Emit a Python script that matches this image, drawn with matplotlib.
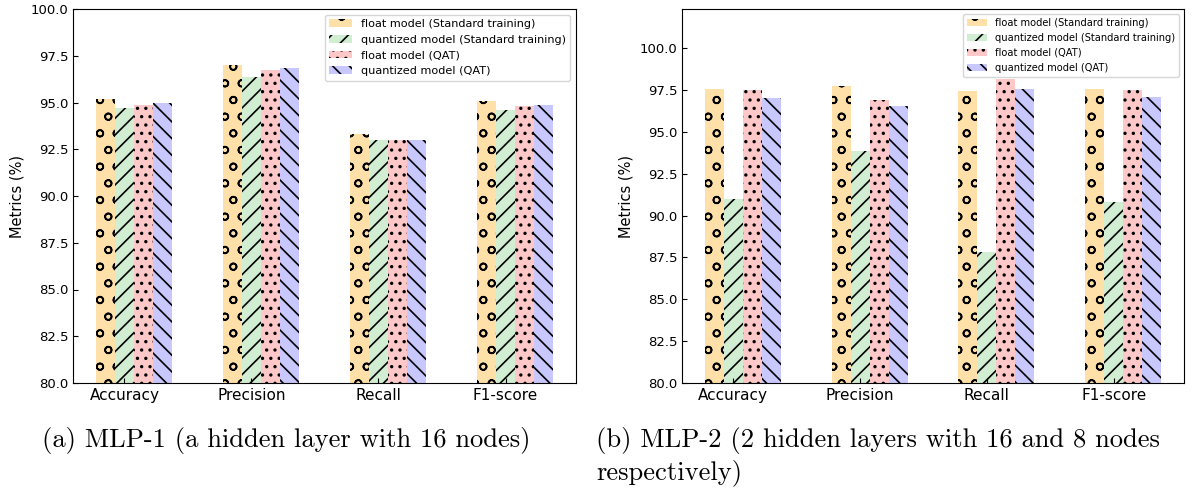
import matplotlib
matplotlib.use("Agg")
import matplotlib.pyplot as plt
import numpy as np

categories = ["Accuracy", "Precision", "Recall", "F1-score"]
series_labels = ["float model (Standard training)",
                 "quantized model (Standard training)",
                 "float model (QAT)",
                 "quantized model (QAT)"]

mlp1_float_std = [95.20, 96.99, 93.33, 95.10]
mlp1_quant_std = [94.69, 96.38, 92.98, 94.62]
mlp1_float_qat = [94.88, 96.74, 93.01, 94.83]
mlp1_quant_qat = [94.99, 96.86, 92.98, 94.88]

mlp2_float_std = [97.55, 97.71, 97.44, 97.55]
mlp2_quant_std = [90.99, 93.86, 87.83, 90.78]
mlp2_float_qat = [97.50, 96.90, 98.15, 97.50]
mlp2_quant_qat = [97.02, 96.54, 97.55, 97.06]

captions = ["(a) MLP-1 (a hidden layer with 16 nodes)",
            "(b) MLP-2 (2 hidden layers with 16 and 8 nodes",
            "respectively)"]

colors = ["#FFE0A8", "#D2EED2", "#FFC8C8", "#C8C8FF"]
hatches = ["o", "//", "..", "\\\\"]

plt.rcParams["hatch.linewidth"] = 1.2

W, H = 1193, 491
fig = plt.figure(figsize=(W / 100, H / 100), dpi=100)

def ax_rect(x0, x1, y0, y1):
    return [x0 / W, 1 - y1 / H, (x1 - x0) / W, (y1 - y0) / H]

ax1 = fig.add_axes(ax_rect(73, 576, 9, 383))
ax2 = fig.add_axes(ax_rect(682, 1184, 9, 383))

width = 0.15
x = np.arange(len(categories))

def draw(ax, data, ylim, legend_fs):
    for k, (vals, col, hat, lab) in enumerate(zip(data, colors, hatches, series_labels)):
        ax.bar(x + (k - 1) * width, vals, width, color=col, hatch=hat,
               edgecolor="black", linewidth=0, label=lab)
    ax.set_ylim(*ylim)
    ax.set_xticks(x)
    ax.set_xticklabels(categories)
    ax.tick_params(axis="both", direction="in", labelsize=9.5)
    ax.tick_params(axis="x", labelsize=11)
    ax.set_ylabel("Metrics (%)", fontsize=10.5)
    ax.legend(loc="upper right", fontsize=legend_fs)

draw(ax1, [mlp1_float_std, mlp1_quant_std, mlp1_float_qat, mlp1_quant_qat],
     (80, 100), 8.1)
draw(ax2, [mlp2_float_std, mlp2_quant_std, mlp2_float_qat, mlp2_quant_qat],
     (80, 102.33), 7.1)
ax1.set_yticks(np.arange(80, 100.01, 2.5))
ax2.set_yticks(np.arange(80, 100.01, 2.5))

# captions in Computer Modern
fs = 15
t1 = fig.text(42 / W, 1 - 441 / H, captions[0], family="cmr10", fontsize=fs,
              ha="left", va="center")
fig.canvas.draw()
bb = t1.get_window_extent()
fs = fs * 490 / bb.width
t1.set_fontsize(fs)
fig.text(596.5 / W, 1 - 441 / H, captions[1], family="cmr10", fontsize=fs,
         ha="left", va="center")
fig.text(596.5 / W, 1 - 473 / H, captions[2], family="cmr10", fontsize=fs,
         ha="left", va="center")

fig.savefig("out.png", dpi=100)
